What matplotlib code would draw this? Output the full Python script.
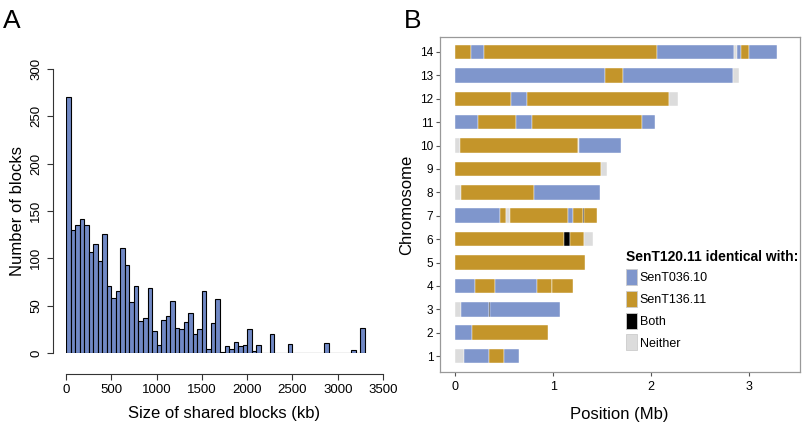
import numpy as np
import matplotlib
matplotlib.use('Agg')
import matplotlib.pyplot as plt
from matplotlib.patches import Patch

plt.rcParams['font.family'] = ['Liberation Sans', 'DejaVu Sans']

# Panel A: histogram of shared block sizes (50 kb bins, 0-3300 kb)
bin_width = 50
block_counts = [270, 130, 135, 142, 135, 107, 115, 97, 126, 71,
                58, 65, 111, 93, 54, 71, 34, 37, 69, 23,
                8, 35, 39, 55, 26, 25, 33, 42, 20, 25,
                65, 4, 32, 57, 1, 7, 4, 12, 7, 8,
                25, 2, 8, 0, 0, 20, 0, 0, 0, 10,
                0, 0, 0, 0, 0, 0, 0, 11, 0, 0,
                0, 0, 0, 3, 0, 26]

# Panel B: blocks along each chromosome (Mb)
seg_chrom = [14, 14, 14, 14, 14, 14, 14, 14,
             13, 13, 13, 13,
             12, 12, 12, 12,
             11, 11, 11, 11, 11,
             10, 10, 10, 10,
             9, 9,
             8, 8, 8,
             7, 7, 7, 7, 7, 7, 7, 7,
             6, 6, 6, 6,
             5,
             4, 4, 4, 4, 4, 4,
             3, 3, 3, 3,
             2, 2,
             1, 1, 1, 1]
seg_start = [0.0, 0.163, 0.29, 2.06, 2.85, 2.877, 2.918, 2.996,
             0.0, 1.532, 1.713, 2.836,
             0.0, 0.572, 0.732, 2.183,
             0.0, 0.238, 0.626, 0.783, 1.903,
             0.0, 0.051, 1.253, 1.268,
             0.0, 1.491,
             0.0, 0.058, 0.807,
             0.0, 0.453, 0.521, 0.562, 1.147, 1.198, 1.30, 1.318,
             0.0, 1.113, 1.175, 1.311,
             0.0,
             0.0, 0.201, 0.409, 0.831, 0.984, 0.990,
             0.0, 0.058, 0.350, 0.356,
             0.0, 0.17,
             0.0, 0.092, 0.35, 0.50]
seg_end = [0.163, 0.29, 2.06, 2.85, 2.877, 2.918, 2.996, 3.286,
           1.532, 1.713, 2.836, 2.90,
           0.572, 0.732, 2.183, 2.275,
           0.238, 0.626, 0.783, 1.903, 2.036,
           0.051, 1.253, 1.268, 1.689,
           1.491, 1.546,
           0.058, 0.807, 1.474,
           0.453, 0.521, 0.562, 1.147, 1.198, 1.30, 1.318, 1.447,
           1.113, 1.175, 1.311, 1.406,
           1.321,
           0.201, 0.409, 0.831, 0.984, 0.990, 1.202,
           0.058, 0.350, 0.356, 1.066,
           0.17, 0.95,
           0.092, 0.35, 0.50, 0.647]
seg_kind = ['G', 'B', 'G', 'B', 'N', 'B', 'G', 'B',
            'B', 'G', 'B', 'N',
            'G', 'B', 'G', 'N',
            'B', 'G', 'B', 'G', 'B',
            'N', 'G', 'N', 'B',
            'G', 'N',
            'N', 'G', 'B',
            'B', 'G', 'N', 'G', 'B', 'G', 'K', 'G',
            'G', 'K', 'G', 'N',
            'G',
            'B', 'G', 'B', 'G', 'K', 'G',
            'N', 'B', 'K', 'B',
            'B', 'G',
            'N', 'B', 'G', 'B']

kind_colors = {'B': '#7f96cc', 'G': '#c4952a', 'K': '#000000', 'N': '#dcdcdc'}
legend_labels = ['SenT036.10', 'SenT136.11', 'Both', 'Neither']
legend_kinds = ['B', 'G', 'K', 'N']

fig = plt.figure(figsize=(8.1, 4.22), dpi=100)

# ---- A ----
ax1 = fig.add_axes([66 / 810, 1 - 353 / 422, 317 / 810, 284 / 422])
edges = np.arange(len(block_counts)) * bin_width
ax1.bar(edges, block_counts, width=bin_width, align='edge',
        color='#7189c5', edgecolor='black', linewidth=0.8)
ax1.set_xlim(0, 3500)
ax1.set_ylim(0, 300)
ax1.set_xticks(np.arange(0, 3501, 500))
ax1.set_yticks(np.arange(0, 301, 50))
for s in ['top', 'right']:
    ax1.spines[s].set_visible(False)
ax1.spines['bottom'].set_position(('outward', 15))
ax1.spines['left'].set_position(('outward', 9.5))
for s in ['bottom', 'left']:
    ax1.spines[s].set_color('#333333')
    ax1.spines[s].set_linewidth(0.8)
ax1.tick_params(labelsize=9.5, length=4, color='#333333', width=0.8)
plt.setp(ax1.get_yticklabels(), rotation=90, va='center')
ax1.set_xlabel('Size of shared blocks (kb)', fontsize=12, labelpad=7)
ax1.set_ylabel('Number of blocks', fontsize=12, labelpad=4)

# ---- B ----
ax2 = fig.add_axes([439.5 / 810, 1 - 372 / 422, 360.5 / 810, 335 / 422])
widths = [e - s for s, e in zip(seg_start, seg_end)]
colors = [kind_colors[k] for k in seg_kind]
ax2.barh(seg_chrom, widths, left=seg_start, height=0.62, color=colors,
         edgecolor='white', linewidth=0.3)
ax2.set_xlim(-0.16, 3.52)
ax2.set_ylim(0.32, 14.64)
ax2.set_xticks([0, 1, 2, 3])
ax2.set_yticks(range(1, 15))
for s in ax2.spines.values():
    s.set_color('#999999')
    s.set_linewidth(0.9)
ax2.tick_params(axis='x', labelsize=9, length=3, color='#555555', width=0.8)
ax2.tick_params(axis='y', labelsize=8.5, length=3, color='#555555', width=0.8,
                pad=1.5)
ax2.set_xlabel('Position (Mb)', fontsize=12, labelpad=10)
ax2.set_ylabel('Chromosome', fontsize=12, labelpad=4)

handles = [Patch(facecolor=kind_colors[k], edgecolor='#cccccc', linewidth=0.6)
           for k in legend_kinds]
leg = ax2.legend(handles, legend_labels, title='SenT120.11 identical with:',
                 loc='upper left', bbox_to_anchor=(0.503, 0.38), frameon=False,
                 fontsize=9, handlelength=0.9, handleheight=1.6,
                 handletextpad=0.2, labelspacing=0.45, borderaxespad=0)
leg.get_title().set_fontweight('bold')
leg.get_title().set_fontsize(10)
leg._legend_box.align = 'left'

fig.text(3 / 810, 1 - 28 / 422, 'A', fontsize=19, va='baseline', ha='left')
fig.text(404 / 810, 1 - 28 / 422, 'B', fontsize=19, va='baseline', ha='left')

fig.savefig('out.png', dpi=100)
